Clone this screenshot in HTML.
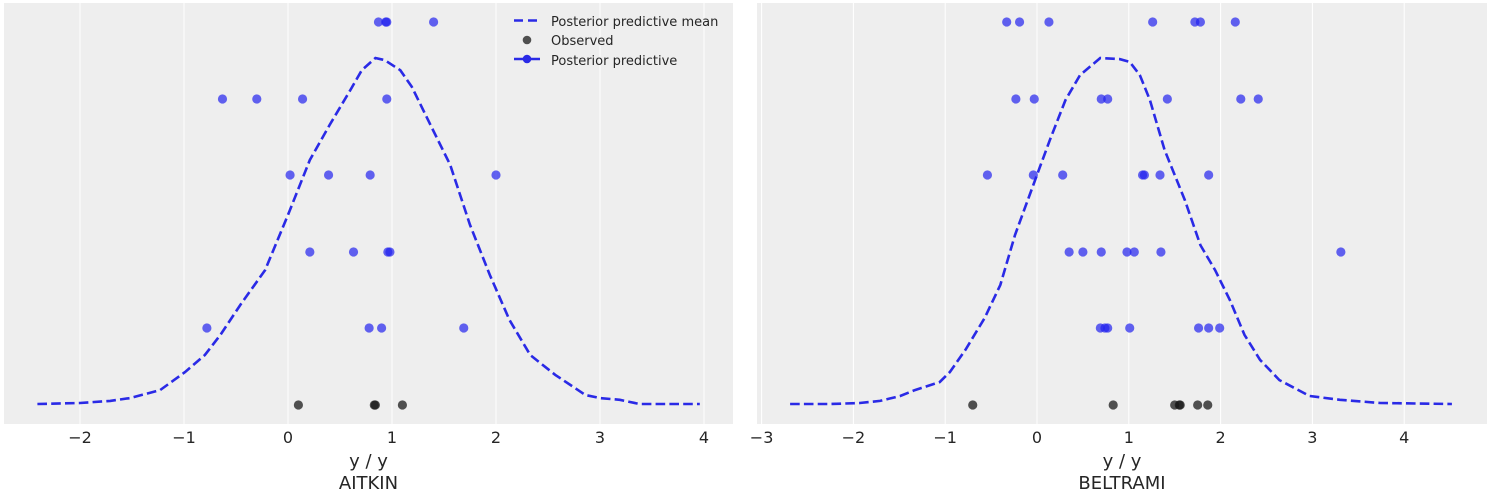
<!DOCTYPE html>
<html><head><meta charset="utf-8">
<style>
html,body{margin:0;padding:0;background:#fff;}
svg{display:block;font-family:"DejaVu Sans","Liberation Sans",sans-serif;}
</style></head>
<body>
<svg id="chart" width="1490" height="496" viewBox="0 0 1490 496"></svg>
<script>
// ---- data: AITKIN ----
const aitkinCurveX = [-2.41,-2.0,-1.71,-1.52,-1.23,-0.99,-0.80,-0.65,-0.46,-0.22,0,0.21,0.40,0.60,0.71,0.84,0.93,1.08,1.19,1.37,1.56,1.75,1.94,2.13,2.33,2.57,2.86,3.0,3.19,3.38,3.96];
const aitkinCurveY = [0,0.003,0.009,0.017,0.040,0.092,0.141,0.199,0.285,0.386,0.545,0.703,0.804,0.905,0.962,0.997,0.991,0.962,0.914,0.804,0.689,0.516,0.372,0.242,0.141,0.084,0.026,0.017,0.012,0,0];
const aitkinPP = [
  [0.87,0.94,0.95,1.40],
  [-0.63,-0.30,0.14,0.95],
  [0.02,0.39,0.79,2.0],
  [0.21,0.63,0.96,0.98],
  [-0.78,0.78,0.90,1.69]
];
const aitkinObs = [0.10,0.83,0.84,1.10];
const aitkinTicks = [-2,-1,0,1,2,3,4];
// ---- data: BELTRAMI ----
const beltCurveX = [-2.69,-2.25,-1.93,-1.71,-1.49,-1.33,-1.06,-0.95,-0.78,-0.57,-0.40,-0.24,-0.02,0.14,0.31,0.47,0.69,0.90,1.01,1.12,1.23,1.39,1.61,1.78,1.94,2.10,2.26,2.43,2.64,2.97,3.30,3.74,4.52];
const beltCurveY = [0,0,0.003,0.009,0.023,0.040,0.063,0.092,0.156,0.248,0.343,0.487,0.646,0.761,0.876,0.948,0.997,0.994,0.986,0.948,0.876,0.732,0.588,0.458,0.386,0.300,0.199,0.127,0.069,0.023,0.012,0.003,0];
const beltPP = [
  [-0.33,-0.19,0.13,1.26,1.72,1.78,2.16],
  [-0.23,-0.03,0.70,0.77,1.42,2.22,2.41],
  [-0.54,-0.04,0.28,1.15,1.17,1.34,1.87],
  [0.35,0.50,0.70,0.98,1.06,1.35,3.31],
  [0.69,0.74,0.77,1.01,1.76,1.87,1.99]
];
const beltObs = [-0.70,0.83,1.50,1.55,1.56,1.75,1.86];
const beltTicks = [-3,-2,-1,0,1,2,3,4];

const NS='http://www.w3.org/2000/svg';
const svg=document.getElementById('chart');
function mk(tag,attrs,parent){const e=document.createElementNS(NS,tag);for(const k in attrs)e.setAttribute(k,attrs[k]);(parent||svg).appendChild(e);return e;}

const rowY=[22,99,175,252,328];
const obsY=405, baseY=404, peakY=57;

function panel(cfg){
  const g=mk('g',{});
  
  
  const bg=mk('rect',{x:cfg.left,y:3,width:cfg.right-cfg.left,height:421,fill:'#eeeeee'},g);
  
  
  const sx=v=>cfg.x0+v*cfg.k;
  const sy=v=>baseY-v*(baseY-peakY);
  cfg.ticks.forEach(t=>{
    const ln=mk('line',{x1:sx(t),x2:sx(t),y1:3,y2:424,stroke:'#ffffff','stroke-width':1},g);
    
    
    const tx=mk('text',{x:sx(t),y:443,'text-anchor':'middle','font-size':16,fill:'#262626'},g);
    
    
    tx.textContent=(t<0?'\u2212'+Math.abs(t):String(t));
  });
  // curve
  let d='';
  cfg.cx.forEach((x,i)=>{d+=(i?'L':'M')+sx(x).toFixed(1)+','+sy(cfg.cy[i]).toFixed(1);});
  const p=mk('path',{d:d,fill:'none',stroke:'#2a2ae6','stroke-width':2.6,'stroke-dasharray':'9.6,4.2'},g);
  
  
  cfg.pp.forEach((row,ri)=>{
    row.forEach(v=>{
      const c=mk('circle',{cx:sx(v),cy:rowY[ri],r:4.6,fill:'#2222ee','fill-opacity':0.7},g);
      
      
    });
  });
  cfg.obs.forEach(v=>{
    const c=mk('circle',{cx:sx(v),cy:obsY,r:4.6,fill:'#1a1a1a','fill-opacity':0.75},g);
    
    
  });
  const mid=(cfg.left+cfg.right)/2;
  const xl=mk('text',{x:mid,y:467,'text-anchor':'middle','font-size':18,fill:'#262626'},g);
  
  
  xl.textContent='y / y';
  const tl=mk('text',{x:mid,y:489,'text-anchor':'middle','font-size':18,fill:'#262626'},g);
  
  
  tl.textContent=cfg.title;
}
panel({name:'aitkin',left:4,right:733,x0:288,k:104,ticks:aitkinTicks,cx:aitkinCurveX,cy:aitkinCurveY,pp:aitkinPP,obs:aitkinObs,title:'AITKIN'});
panel({name:'beltrami',left:757,right:1487,x0:1037,k:91.8,ticks:beltTicks,cx:beltCurveX,cy:beltCurveY,pp:beltPP,obs:beltObs,title:'BELTRAMI'});

// legend
const lg=mk('g',{});


const l1=mk('line',{x1:514,x2:540,y1:20.5,y2:20.5,stroke:'#2a2ae6','stroke-width':2.6,'stroke-dasharray':'9,5'},lg);


const t1=mk('text',{x:551,y:26,'font-size':13,fill:'#262626'},lg);


t1.textContent='Posterior predictive mean';
const c2=mk('circle',{cx:527,cy:40,r:4.3,fill:'#1a1a1a','fill-opacity':0.75},lg);


const t2=mk('text',{x:551,y:45,'font-size':13,fill:'#262626'},lg);


t2.textContent='Observed';
const l3=mk('line',{x1:514,x2:540,y1:59,y2:59,stroke:'#2a2ae6','stroke-width':2.4},lg);


const c3=mk('circle',{cx:527,cy:59,r:4.3,fill:'#2a2ae6'},lg);


const t3=mk('text',{x:551,y:65,'font-size':13,fill:'#262626'},lg);


t3.textContent='Posterior predictive';
</script>
</body></html>
